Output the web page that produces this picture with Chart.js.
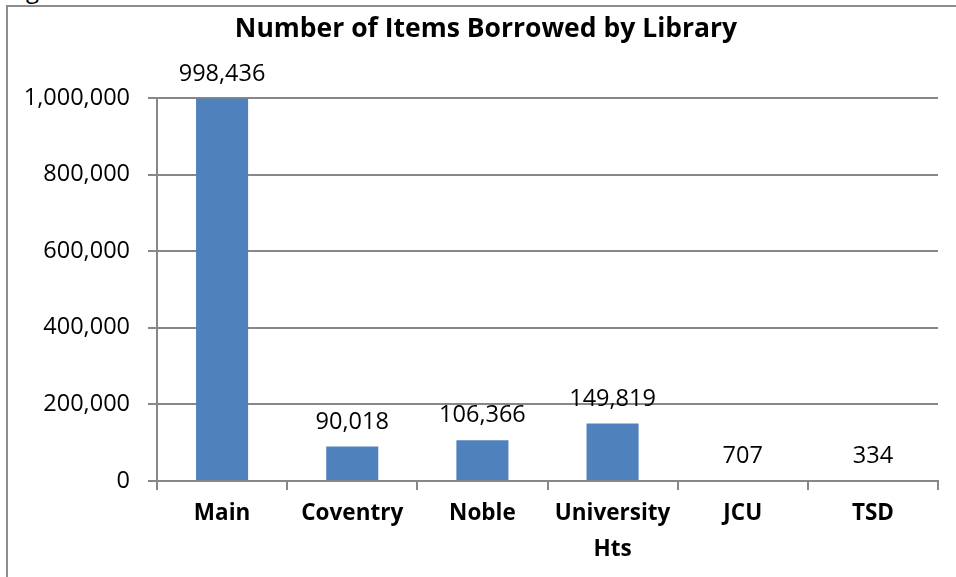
<!DOCTYPE html>
<html>
<head>
<meta charset="utf-8">
<script src="https://cdn.jsdelivr.net/npm/chart.js@4.4.0/dist/chart.umd.min.js"></script>
<style>
  html, body { margin: 0; padding: 0; background: #ffffff; }
  body { width: 956px; height: 577px; position: relative; overflow: hidden; font-family: "Open Sans", sans-serif; }
  #frame { position: absolute; left: 6px; top: 5px; width: 1000px; height: 700px; border-left: 2px solid #8c8c8c; border-top: 2px solid #8c8c8c; }
  #cut { position: absolute; left: 26px; top: -23px; font-size: 24px; color: #000; line-height: 24px; }
  #wrap { position: absolute; left: 0; top: 0; width: 956px; height: 577px; }
</style>
</head>
<body>
<div id="cut">g</div>
<div id="frame"></div>
<div id="wrap"><canvas id="c" width="956" height="577"></canvas></div>
<script>
const chartTitle = "Number of Items Borrowed by Library";
const categories = ["Main", "Coventry", "Noble", ["University", "Hts"], "JCU", "TSD"];
const borrowed = [998436, 90018, 106366, 149819, 707, 334];
const yTicks = [0, 200000, 400000, 600000, 800000, 1000000];

const FONT = '"Open Sans", sans-serif';
const AXIS = '#878787';
const fmt = v => v.toLocaleString('en-US');

const titlePlugin = {
  id: 'excelTitle',
  afterDraw(chart) {
    const ctx = chart.ctx;
    ctx.save();
    ctx.font = 'bold 26.5px ' + FONT;
    ctx.fillStyle = '#000';
    ctx.textAlign = 'center';
    ctx.textBaseline = 'alphabetic';
    ctx.fillText(chartTitle, 486, 37);
    ctx.restore();
  }
};

const labelPlugin = {
  id: 'valueLabels',
  afterDatasetsDraw(chart) {
    const ctx = chart.ctx;
    const area = chart.chartArea;
    // axis line stays on top of the bars, as in the original
    ctx.save();
    ctx.strokeStyle = AXIS;
    ctx.lineWidth = 2;
    ctx.beginPath();
    ctx.moveTo(area.left, chart.scales.y.getPixelForValue(0));
    ctx.lineTo(area.right, chart.scales.y.getPixelForValue(0));
    ctx.stroke();
    ctx.restore();

    const meta = chart.getDatasetMeta(0);
    ctx.save();
    ctx.font = '23.5px ' + FONT;
    ctx.fillStyle = '#000';
    ctx.textAlign = 'center';
    ctx.textBaseline = 'alphabetic';
    meta.data.forEach((bar, i) => {
      ctx.fillText(fmt(borrowed[i]), bar.x, bar.y - 18);
    });
    ctx.restore();
  }
};

new Chart(document.getElementById('c'), {
  type: 'bar',
  data: {
    labels: categories,
    datasets: [{
      data: borrowed,
      backgroundColor: '#4F81BD',
      borderWidth: 0,
      categoryPercentage: 0.4,
      barPercentage: 1.0
    }]
  },
  options: {
    responsive: false,
    animation: false,
    events: [],
    layout: { padding: { left: 0, right: 18, top: 98, bottom: 0 } },
    plugins: { legend: { display: false }, tooltip: { enabled: false }, title: { display: false } },
    scales: {
      x: {
        offset: true,
        afterFit(scale) { scale.height = 96; },
        grid: { offset: true, drawOnChartArea: false, drawTicks: true, tickLength: 9, color: AXIS, lineWidth: 2 },
        border: { display: true, color: AXIS, width: 2 },
        ticks: { color: '#000', font: { family: FONT, size: 22.5, weight: 'bold', lineHeight: 1.6 }, padding: 6, maxRotation: 0, autoSkip: false }
      },
      y: {
        min: 0, max: 1000000,
        afterFit(scale) { scale.width = 157; },
        afterBuildTicks(scale) { scale.ticks = yTicks.map(v => ({ value: v })); },
        grid: { drawOnChartArea: true, drawTicks: true, tickLength: 9, color: AXIS, lineWidth: 2 },
        border: { display: true, color: AXIS, width: 2 },
        ticks: { color: '#000', font: { family: FONT, size: 23.5 }, padding: 18, callback: v => fmt(v) }
      }
    }
  },
  plugins: [titlePlugin, labelPlugin]
});
</script>
</body>
</html>
